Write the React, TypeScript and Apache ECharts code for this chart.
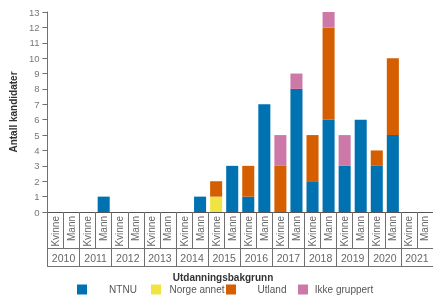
import React, { useEffect, useRef } from "react";
import * as echarts from "echarts";

const years = ["2010", "2011", "2012", "2013", "2014", "2015", "2016", "2017", "2018", "2019", "2020", "2021"];
const genders = ["Kvinne", "Mann"];
const categories = years.flatMap((y) => genders.map((g) => `${g}|${y}`));

const ntnu = [0, 0, 0, 1, 0, 0, 0, 0, 0, 1, 0, 3, 1, 7, 0, 8, 2, 6, 3, 6, 3, 5, 0, 0];
const norgeAnnet = [0, 0, 0, 0, 0, 0, 0, 0, 0, 0, 1, 0, 0, 0, 0, 0, 0, 0, 0, 0, 0, 0, 0, 0];
const utland = [0, 0, 0, 0, 0, 0, 0, 0, 0, 0, 1, 0, 2, 0, 3, 0, 3, 6, 0, 0, 1, 5, 0, 0];
const ikkeGruppert = [0, 0, 0, 0, 0, 0, 0, 0, 0, 0, 0, 0, 0, 0, 2, 1, 0, 1, 2, 0, 0, 0, 0, 0];

const seriesNames = ["NTNU", "Norge annet", "Utland", "Ikke gruppert"];
const seriesData = [ntnu, norgeAnnet, utland, ikkeGruppert];
const colors = ["#0072B2", "#F0E442", "#D55E00", "#CC79A7"];
const legendLefts = [77, 151, 226, 298];

const FONT = "'Liberation Sans', Arial, sans-serif";
const LINE = "#707070";

export default function App() {
  const ref = useRef<HTMLDivElement>(null);
  useEffect(() => {
    if (!ref.current) return;
    const chart = echarts.init(ref.current, null, { renderer: "svg" });
    chart.setOption({
      animation: false,
      textStyle: { fontFamily: FONT },
      grid: { left: 43, right: -5, top: 12, bottom: 83, containLabel: false },
      legend: seriesNames.map((n, i) => ({
        data: [n],
        left: legendLefts[i],
        top: 284,
        padding: 0,
        itemWidth: 10,
        itemHeight: 10,
        itemGap: 0,
        icon: "rect",
        selectedMode: false,
        formatter: "{a|{name}}",
        textStyle: {
          fontFamily: FONT,
          fontSize: 10,
          lineHeight: 11,
          color: "#555",
          rich: { a: { width: 62, align: "center", fontSize: 10, lineHeight: 11, color: "#555", fontFamily: FONT } },
        },
      })),
      xAxis: [
        {
          type: "category",
          data: categories,
          position: "bottom",
          axisLine: { show: true, lineStyle: { color: "#555", width: 1 } },
          axisTick: { show: true, length: 36, interval: 0, alignWithLabel: false, lineStyle: { color: LINE } },
          axisLabel: {
            interval: 0,
            rotate: 90,
            margin: 4,
            fontSize: 10,
            color: "#666",
            fontFamily: FONT,
            formatter: (v: string) => v.split("|")[0],
          },
        },
        {
          type: "category",
          data: years,
          position: "bottom",
          offset: 36,
          axisLine: { show: true, lineStyle: { color: LINE, width: 1 } },
          axisTick: { show: true, length: 18, interval: 0, alignWithLabel: false, lineStyle: { color: LINE } },
          axisLabel: { interval: 0, margin: 4, fontSize: 10.5, color: "#666", fontFamily: FONT },
        },
        {
          type: "category",
          data: years,
          position: "bottom",
          offset: 54,
          axisLine: { show: true, lineStyle: { color: LINE, width: 1 } },
          axisTick: { show: false },
          axisLabel: { show: false },
        },
      ],
      yAxis: {
        type: "value",
        min: 0,
        max: 13,
        interval: 1,
        name: "Antall kandidater",
        nameLocation: "middle",
        nameGap: 29,
        nameTextStyle: { fontSize: 10, fontWeight: "bold", color: "#333", fontFamily: FONT },
        axisLine: { show: true, lineStyle: { color: LINE } },
        axisTick: { show: true, length: 5, lineStyle: { color: LINE } },
        axisLabel: { fontSize: 9.5, color: "#777", margin: 8, fontFamily: FONT },
        splitLine: { show: false },
      },
      graphic: [
        {
          type: "text",
          x: 223,
          y: 277,
          style: {
            text: "Utdanningsbakgrunn",
            fontSize: 10,
            fontWeight: "bold",
            fill: "#333",
            fontFamily: FONT,
            align: "center",
            verticalAlign: "middle",
          },
        },
      ],
      series: seriesNames.map((n, i) => ({
        name: n,
        type: "bar",
        stack: "total",
        xAxisIndex: 0,
        barCategoryGap: "25%",
        itemStyle: { color: colors[i] },
        data: seriesData[i].map((v) => (v === 0 ? "-" : v)),
      })),
    });
    return () => chart.dispose();
  }, []);
  return (
    <div
      ref={ref}
      style={{ position: "fixed", left: 0, top: 0, width: 433, height: 295, overflow: "hidden" }}
    />
  );
}
